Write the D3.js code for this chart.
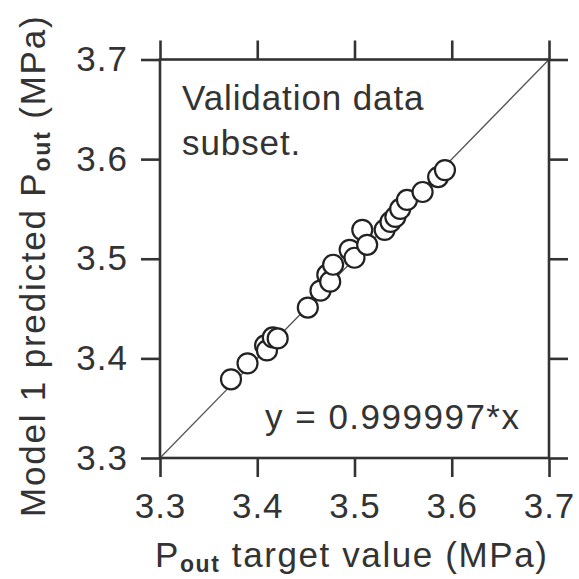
<!DOCTYPE html>
<html><head><meta charset="utf-8">
<script src="https://cdn.jsdelivr.net/npm/d3@7"></script>
<style>body{margin:0;background:#fff}text{font-family:"Liberation Sans",Arial,sans-serif;fill:#333}</style>
</head><body>
<svg id="c" width="579" height="579"></svg>
<script>
const targetValues = [3.373,3.390,3.408,3.410,3.416,3.421,3.452,3.465,3.472,3.475,3.478,3.495,3.500,3.508,3.513,3.531,3.537,3.542,3.547,3.554,3.570,3.586,3.593];
const predictedValues = [3.379,3.395,3.413,3.408,3.421,3.420,3.451,3.468,3.484,3.477,3.494,3.509,3.501,3.529,3.514,3.529,3.537,3.542,3.550,3.559,3.567,3.582,3.589];
const tickValues = [3.3,3.4,3.5,3.6,3.7];
const domain = [3.3,3.7];
const slope = 0.999997;

const svg = d3.select("#c");
const L=160,R=549,T=59.5,B=458;
const x = d3.scaleLinear().domain(domain).range([L,R]);
const y = d3.scaleLinear().domain(domain).range([B,T]);
const tk = 19, sw = 2.6, col="#333";

// fit line
svg.append("line").attr("x1",x(domain[0])).attr("y1",y(domain[0]*slope))
  .attr("x2",x(domain[1])).attr("y2",y(domain[1]*slope))
  .attr("stroke","#555").attr("stroke-width",1.3);

// points
svg.append("g").selectAll("circle").data(targetValues).join("circle")
  .attr("cx",d=>x(d)).attr("cy",(d,i)=>y(predictedValues[i])).attr("r",10)
  .attr("fill","#fff").attr("stroke","#222").attr("stroke-width",2.2);

function styleAxis(g){
  g.select(".domain").remove();
  g.selectAll(".tick line").attr("stroke",col).attr("stroke-width",sw);
}
function styleText(g){
  g.selectAll("text").attr("font-size",35).attr("fill","#333")
   .attr("font-family","Liberation Sans, Arial").attr("letter-spacing",1);
}
svg.append("g").attr("transform",`translate(0,${B})`)
  .call(d3.axisBottom(x).tickValues(tickValues).tickSize(tk).tickPadding(16).tickFormat(d3.format(".1f")))
  .call(styleAxis).call(styleText);
svg.append("g").attr("transform",`translate(0,${T})`)
  .call(d3.axisTop(x).tickValues(tickValues).tickSize(tk).tickFormat(""))
  .call(styleAxis);
svg.append("g").attr("transform",`translate(${L},0)`)
  .call(d3.axisLeft(y).tickValues(tickValues).tickSize(tk).tickPadding(13).tickFormat(d3.format(".1f")))
  .call(styleAxis).call(styleText);
svg.append("g").attr("transform",`translate(${R},0)`)
  .call(d3.axisRight(y).tickValues(tickValues).tickSize(tk).tickFormat(""))
  .call(styleAxis);

// frame
svg.append("rect").attr("x",L).attr("y",T).attr("width",R-L).attr("height",B-T)
  .attr("fill","none").attr("stroke",col).attr("stroke-width",sw);

// annotations
svg.append("text").attr("x",182).attr("y",110).attr("font-size",35).attr("letter-spacing",0.9).text("Validation data");
svg.append("text").attr("x",182).attr("y",155).attr("font-size",35).attr("letter-spacing",0.9).text("subset.");
svg.append("text").attr("x",265).attr("y",429).attr("font-size",35).attr("letter-spacing",1.5).text("y = 0.999997*x");

// axis titles
const xt = svg.append("text").attr("x",155).attr("y",567).attr("font-size",35).attr("letter-spacing",1.6);
xt.append("tspan").text("P");
xt.append("tspan").attr("font-size",23).attr("font-weight","bold").attr("dy",5).text("out");
xt.append("tspan").attr("dy",-5).text(" target value (MPa)");

const yt = svg.append("text").attr("transform","translate(45,517) rotate(-90)").attr("font-size",35).attr("letter-spacing",1.8);
yt.append("tspan").text("Model 1 predicted P");
yt.append("tspan").attr("font-size",23).attr("font-weight","bold").attr("dy",5).text("out");
yt.append("tspan").attr("dy",-5).text(" (MPa)");
</script>
</body></html>
